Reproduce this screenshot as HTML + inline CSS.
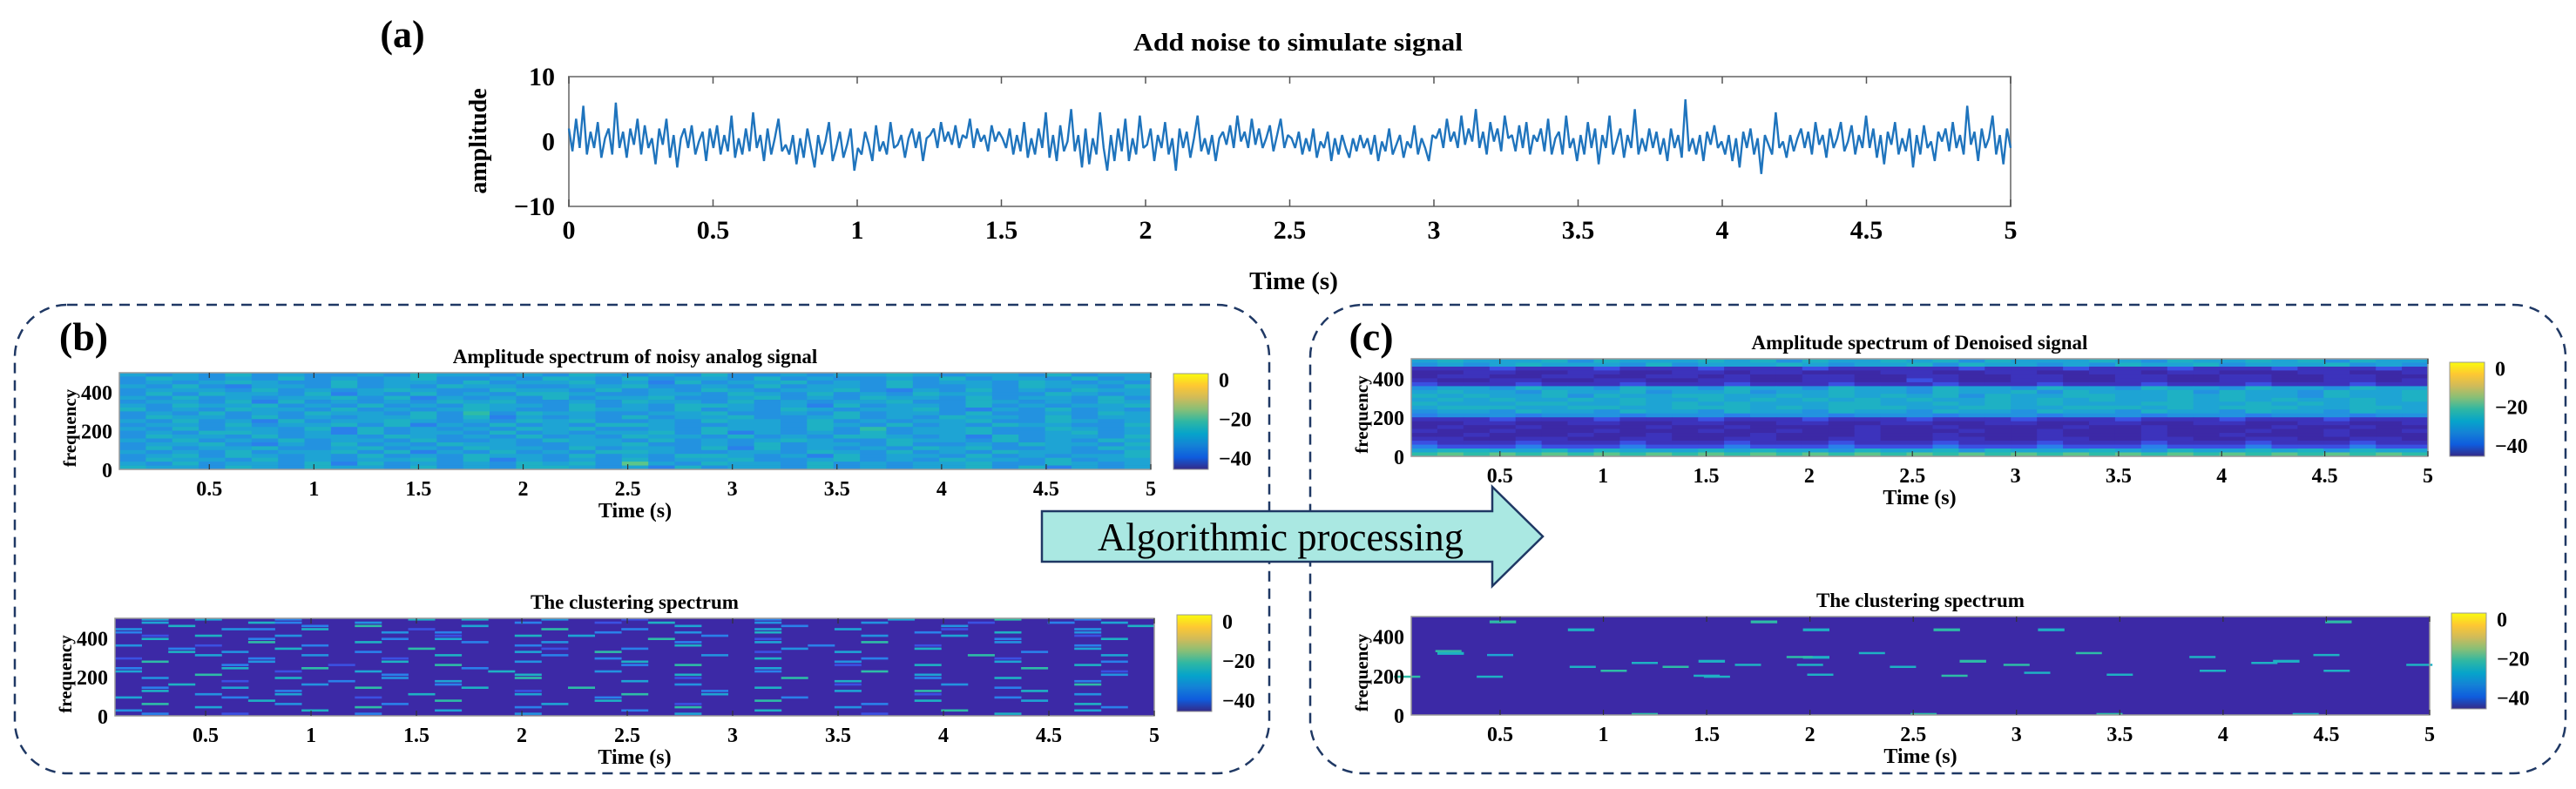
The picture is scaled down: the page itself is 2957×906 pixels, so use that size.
<!DOCTYPE html>
<html><head><meta charset="utf-8"><style>
html,body{margin:0;padding:0;background:#fff;}
svg{display:block;}
text{font-family:"Liberation Serif",serif;}
</style></head><body>
<svg id="fig" width="2957" height="906" viewBox="0 0 2957 906" xmlns="http://www.w3.org/2000/svg">
<g id="panelA"></g>
<rect x="17" y="350" width="1440" height="538" rx="60" fill="none" stroke="#1f3864" stroke-width="2.5" stroke-dasharray="12,8"/>
<rect x="1504" y="350" width="1441" height="538" rx="60" fill="none" stroke="#1f3864" stroke-width="2.5" stroke-dasharray="12,8"/>
<text x="96" y="402" font-size="46" font-weight="bold" text-anchor="middle">(b)</text>
<text x="1574" y="402" font-size="46" font-weight="bold" text-anchor="middle">(c)</text>
<g id="maps"></g>
<g>
<polygon points="1196,587 1713,587 1713,559 1771,616 1713,673 1713,645 1196,645" fill="#aae8e2" stroke="#1f3864" stroke-width="2.5"/>
<text x="1470" y="632" font-size="46" text-anchor="middle" textLength="420" lengthAdjust="spacingAndGlyphs">Algorithmic processing</text>
</g>
</svg>
<script>
const NS="http://www.w3.org/2000/svg";
// ---- Panel (a) data ----
const signalValues=[
2,-1.5,3.5,-1,5.5,-2,1.5,-1,3,-2.5,0.5,2,-2,6,-1,1.5,-2.5,2,-0.5,3.5,
-2,2.5,-1,0.5,-3.5,2,-0.5,3.5,-2.5,1,-4,0.5,2,-1,2.5,-2,0,1.5,-3,2,
-1,2.5,-2,1,-1.5,4,-2.5,0.5,-2,2,-1.5,4.5,-1,1,-3,2,-2,0.5,3.5,-1.5,
-0.5,-2,1,-3.5,0.5,-2.5,2,-1,-4,1,-2,0,3,-3,-1,1.5,-2.5,-0.5,2,-4.5,
-1,-2,1.5,-0.5,-3,2.5,-1.5,0,-2,3,-1,-0.5,1,-2.5,0.5,2,-1,1.5,-3,0.5,
1,2,-1,3,0,1.5,-0.5,2.5,-1,1,0.5,3.5,-1,2,0,1,-1.5,2.5,0,1.5,
0.5,-1,2,-2,1,-1.5,3,-2.5,0.5,-2,2,-1,4.5,-2.5,1,-3,2.5,-1.5,0,5,
-1.5,1,-4,2,-3.5,0.5,-2,4.5,-1,-4.5,1,-3,2,-1.5,3.5,-3,0.5,-2,4,-1,
-0.5,2,-3,1,-1,3,-2,0.5,-4.5,2,-1,1.5,-2.5,0.5,4,-1.5,0.5,-2,1,-3,
0.5,1.5,-0.5,2.5,-1,4,0,1.5,-1,3.5,-0.5,2,-1,0.5,2.5,-1.5,1,3.5,-1,1,
0.5,-1,1.5,-2,0.5,-1.5,2,-2.5,0,-1,1.5,-3,0.5,-2,1,-1,-2.5,0.5,-1.5,1,
-1,0.5,-2,1,-3,0,-1.5,2,-2,-0.5,1,-2.5,0,-1,2.5,-2,0.5,-1,-3,1,
0.5,2,-1,3.5,0,1.5,-1,4,-0.5,2,0,5,-1,1.5,-2,3,0,2,-1.5,4,
0.5,1,-1.5,2.5,-1,3,-2,1,0,2,-1.5,3.5,-2,0.5,1.5,-2,4,-1,0.5,-3,
1,-2,3,-1,2,-3.5,1,-1,4,-2,0,2,-2.5,1,-1,5,-2,0.5,-1.5,2,
-1,1.5,-2,0.5,-3,2,-1,1,-2.5,6.5,-1.5,0.5,-2,1,-3,1.5,-0.5,2.5,-1,0,
-2,1,-3,0.5,-4,1.5,-1,2,-2,0.5,-5,1,-0.5,-2,4.5,-1,0,-2.5,1,-1.5,
0.5,2,-1,1.5,-2,3,-0.5,1,-2.5,2,-1,0.5,3,-1.5,0,2.5,-2,1,-1,4,
-1,2,-2.5,1,-3.5,1.5,-0.5,3,-2,0.5,-1.5,2,-4,1,-2,2.5,-1,0,-3,1.5,
0,2,-1.5,3,-1,1,-2,5.5,-0.5,1.5,-3,2,-1,0.5,4,-2,1,-3.5,2,-1
];
const aTicks=[0,0.5,1,1.5,2,2.5,3,3.5,4,4.5,5];
const aTickLabels=["0","0.5","1","1.5","2","2.5","3","3.5","4","4.5","5"];
const aYTicks=[-10,0,10];
const aYTickLabels=["\u221210","0","10"];

// ---- Heatmap data (digit = colour level, rows top→bottom = high→low frequency) ----
const noisyRows=[
"545464544546554546545464454556545546455",
"465454645456445465464554645445464554645",
"454565446455464556453645564546455465454",
"546435546454655445564454645546445465546",
"455546454565446554645465455643546454655",
"464655463546454665445546546454655446545",
"546454556463545464556445645465546455464",
"455463645454656445465546454556446545465",
"546556454645465546454665453645546454556",
"645465546454565446554645465455643546454",
"454645465546474655445564454645546445465",
"465546454556463545464556445645465546455",
"546453645565454656445465546454556446545",
"455464556463546454665445546546454655446",
"546455463645454656445465546474556446545",
"454665453645546454556463545464556445645",
"465546455465454645465546454665453645546",
"546454645546445465546454565446554645465",
"455643546454655445564454645546445465546",
"464556445645465546455463645454656445465",
"545464556463546454665445546546454655446",
"456465454645465546454665453645546454556",
"465546454556463545464556445645465546455",
"546455463645454656485465546454556446545",
"655465465546454665453645546454556463545"
];
const noisyClusterRows=[
"050500300006060040020000300005000700300",
"050006300400000300206000400040002003050",
"006000030700050000000500030000040000006",
"400043060002000070030000500500020000400",
"300000000040300000300400600000300600400",
"020600400000200605000030000040050000200",
"060003000030500000007000200000000300060",
"000007000600030040000300500070000400000",
"400200030000000300000600003000200000300",
"003000600007000020030000040000600000500",
"006040000300000500700000200500000030000",
"000500040000600030000040000000007000050",
"200003000020000000300000600030000200000",
"070004000060000400060000000400000500030",
"000030002000700000030700000200600000600",
"300060070000030000000000500000000070000",
"500000200500006000400000300070000000020",
"000700000030000600000600000000500000040",
"040000600040000700000200070000300600000",
"000020003000500000050000000600000000300",
"006000040000300000000400000200040000700",
"030050000700060007000000600000000300000",
"060000300000000200000030000500700060000",
"000400500006000500070050000000200000400",
"500030000200000000300000030000000300000",
"000006000000700000600000700000600050000",
"070000400030000050000200000030000000600",
"000500000700000300000700000400000000030",
"400000060000500000030000600000070000500",
"030020000300000400000500000020000600000"
];
const denoisedRows=[
"565556465556564655656465556546556564655",
"454565554645556545564655454655645556454",
"111211121112111211111211121112111211121",
"001100110011011000110011001101100011001",
"011001100110100110011001100110011001100",
"100110011001100110021001100110011001101",
"211121112111211121112111211121112111211",
"455465546554655465546554655465546554655",
"565546556455645565546556465556465546556",
"656556465566556565656465566556565546556",
"565655656556565656565565656556565655656",
"655566556565655566556565655566556565655",
"566655665566656566655665566656566655665",
"455465546554655465546554655465546554655",
"344434443444344434443444344434443444344",
"111211121112111211121112111211121112111",
"001100110011001100110011001100110011001",
"010010000100100001001000010010000100100",
"100100010001001001000100100010001001001",
"001000100100010001001000100010010001000",
"110011001100110011001100110011001100110",
"211121112111211121112111211121112111211",
"322232223222322232223222322232223222322",
"566556465556565546556465556546556564655",
"787878787878787878787878787878787878787"
];
const denoisedClusterRows=[
"000000000000000000000000000000000000000",
"000700000000070000000000000000000007000",
"000000000000000000000000000000000000000",
"000000600000000600007000600000000000000",
"000000000000000000000000000000000000000",
"000000000000000000000000000000000000000",
"000000000000000000000000000000000000000",
"000000000000000000000000000000000000000",
"000000000000000000000000000000000000000",
"060000000000000000000000000000000000000",
"000000000000000600000000000000000000000",
"000000000006000000000700000000000600000",
"000000000000000000000000000000000000000",
"000000000000000000000000000000000000000",
"000000000000000000000000000000000000000",
"000000000000000000000000000000000000000",
"000000000000000000000000000000000000000",
"000000000000000000000000000000000000000",
"000000000000000000000000000000000000000",
"000000000000000000000000000000000000000",
"000000000000000000000000000000000000000",
"000000000000000000000000000000000000000",
"000000000000000000000000000000000000000",
"000000000000000000000000000000000000000",
"000000000000000000000000000000000000000"
];
const denoisedClusterMarks=[
[0.25,330,7],[0.5,310,5],[0.9,250,6],[1.05,230,7],[1.2,270,6],[1.35,250,7],[1.5,205,6],[1.7,260,6],[1.95,300,7],[2.0,260,6],[2.05,210,6],[2.3,320,6],[2.45,250,6],[2.7,205,7],[3.0,260,7],[3.1,220,6],[3.35,320,7],[3.5,210,6],[3.9,300,6],[3.95,230,6],[4.2,270,6],[4.5,310,6],[4.55,230,6],[4.95,260,6],[0.05,200,7],[0.45,200,6],[1.55,200,6],[1.2,10,7],[2.55,10,7],[3.45,10,7],[4.4,10,6]
];
const specXTicks=[0.5,1,1.5,2,2.5,3,3.5,4,4.5,5];
const specXTickLabels=["0.5","1","1.5","2","2.5","3","3.5","4","4.5","5"];
const specYTicks=[0,200,400];
const cbTicks=[0,-20,-40];
const cbTickLabels=["0","\u221220","\u221240"];

const palette=["#3c29a6","#3c33bc","#3b50e2","#2a80ea","#2392e0","#1ea4d4","#1eb1c4","#2ebca6","#5cc58a","#a0c95e"];

function el(tag,attrs,parent){const e=document.createElementNS(NS,tag);for(const k in attrs)e.setAttribute(k,attrs[k]);parent.appendChild(e);return e;}

// ---- Panel A ----
const A=document.getElementById('panelA');
const aL=653,aR=2308,aT=88,aB=237;
const ax=t=>aL+(t-0)/(5-0)*(aR-aL);
const ay=v=>aT+(10-v)/20*(aB-aT);
let t;
t=el('text',{x:462,y:54,'font-size':44,'font-weight':'bold','text-anchor':'middle'},A);t.textContent='(a)';


t=el('text',{x:1490,y:58,'font-size':28,'font-weight':'bold','text-anchor':'middle',textLength:378,lengthAdjust:'spacingAndGlyphs'},A);t.textContent='Add noise to simulate signal';


const frame=el('rect',{x:aL,y:aT,width:aR-aL,height:aB-aT,fill:'none',stroke:'#8a8a8a','stroke-width':2},A);


let d='';
signalValues.forEach((v,i)=>{const x=ax(i/(signalValues.length-1)*5);d+=(i?'L':'M')+x.toFixed(1)+','+ay(v).toFixed(1);});
const line=el('path',{d:d,fill:'none',stroke:'#1f74bd','stroke-width':2.4,'stroke-linejoin':'bevel'},A);


aTicks.forEach((v,i)=>{
 const x=ax(v);
 const tk=el('path',{d:`M${x},${aT}v8M${x},${aB}v-8`,stroke:'#555','stroke-width':1.5},A);
 
 
 const lb=el('text',{x:x,y:274,'font-size':30,'font-weight':'bold','text-anchor':'middle'},A);lb.textContent=aTickLabels[i];
 
 
});
aYTicks.forEach((v,i)=>{
 const lb=el('text',{x:aL-16,y:ay(v)+10,'font-size':30,'font-weight':'bold','text-anchor':'end'},A);lb.textContent=aYTickLabels[i];
 
 
});
t=el('text',{x:1485,y:332,'font-size':29,'font-weight':'bold','text-anchor':'middle'},A);t.textContent='Time (s)';


t=el('text',{x:0,y:0,'font-size':28,'font-weight':'bold','text-anchor':'middle',transform:'translate(558,162) rotate(-90)'},A);t.textContent='amplitude';



// ---- Spectrogram panels ----
const M=document.getElementById('maps');
function spectro(cfg){
 const g=el('g',{},M);
 
 
 const {L,R,T,B}=cfg;
 const tmin=0.07,tmax=5,fmax=500;
 const sx=v=>L+(v-tmin)/(tmax-tmin)*(R-L);
 const sy=f=>B-f/fmax*(B-T);
 const bg=el('rect',{x:L,y:T,width:R-L,height:B-T,fill:palette[0]},g);
 
 
 const rows=cfg.rows,nr=rows.length;
 rows.forEach((row,ri)=>{
  const n=row.length;
  for(let c=0;c<n;c++){
   const lv=+row[c];
   if(cfg.sparse&&lv===0)continue;
   const t0=tmin+c/n*(tmax-tmin),t1=tmin+(c+1)/n*(tmax-tmin);
   const f1=fmax*(1-ri/nr),f0=fmax*(1-(ri+1)/nr);
   const y0=sy(f1),y1=sy(f0);
   const h=cfg.sparse?Math.max(2.5,(y1-y0)*0.7):(y1-y0)+0.4;
   const cell=el('rect',{x:sx(t0).toFixed(1),y:y0.toFixed(1),width:(sx(t1)-sx(t0)+0.4).toFixed(1),height:h.toFixed(1),fill:palette[lv]},g);
   
   
  }
 });
 if(cfg.marks){cfg.marks.forEach(m=>{
  const w=(R-L)/39;
  const mk=el('rect',{x:(sx(m[0])-w/2).toFixed(1),y:sy(m[1]).toFixed(1),width:w.toFixed(1),height:2.5,fill:palette[m[2]]},g);
  
  
 });}
 const fr=el('rect',{x:L,y:T,width:R-L,height:B-T,fill:'none',stroke:'#999','stroke-width':1.5},g);
 
 
 specXTicks.forEach((v,i)=>{
  const x=sx(v);
  const tk=el('path',{d:`M${x},${T}v6M${x},${B}v-6`,stroke:'#333','stroke-width':1.2},g);
  
  
  const lb=el('text',{x:x,y:B+30,'font-size':24,'font-weight':'bold','text-anchor':'middle'},g);lb.textContent=specXTickLabels[i];
  
  
 });
 specYTicks.forEach(v=>{
  const lb=el('text',{x:L-8,y:sy(v)+9,'font-size':24,'font-weight':'bold','text-anchor':'end'},g);lb.textContent=String(v);
  
  
 });
 let tt=el('text',{x:(L+R)/2,y:T-11,'font-size':23,'font-weight':'bold','text-anchor':'middle'},g);tt.textContent=cfg.title;
 
 
 tt=el('text',{x:(L+R)/2,y:B+55,'font-size':24,'font-weight':'bold','text-anchor':'middle'},g);tt.textContent='Time (s)';
 
 
 tt=el('text',{x:0,y:0,'font-size':21,'font-weight':'bold','text-anchor':'middle',transform:`translate(${L-50},${(T+B)/2+8}) rotate(-90)`},g);tt.textContent='frequency';
 
 
 const gid='cb'+cfg.name;
 const defs=el('defs',{},g);
 const lg=el('linearGradient',{id:gid,x1:0,y1:1,x2:0,y2:0},defs);
 ["#352a87","#0f5cdd","#1481d6","#06a4ca","#2eb7a4","#87bf77","#d1bb59","#fec832","#f9fb0e"].forEach((c,i,a)=>el('stop',{offset:i/(a.length-1),'stop-color':c},lg));
 const cbr=el('rect',{x:cfg.cbX,y:cfg.cbT,width:40,height:cfg.cbB-cfg.cbT,fill:`url(#${gid})`,stroke:'#999','stroke-width':1},g);
 
 
 const cy=v=>cfg.cbB-(v+46)/(3+46)*(cfg.cbB-cfg.cbT);
 cbTicks.forEach((v,i)=>{
  const lb=el('text',{x:cfg.cbX+52,y:cy(v)+9,'font-size':24,'font-weight':'bold','text-anchor':'start'},g);lb.textContent=cbTickLabels[i];
  
  
 });
}
spectro({name:'noisy-spectrum',L:137,R:1321,T:428,B:539,rows:noisyRows,title:'Amplitude spectrum of noisy analog signal',cbX:1347,cbT:429,cbB:539});
spectro({name:'noisy-clustering-spectrum',L:132,R:1325,T:710,B:822,rows:noisyClusterRows,sparse:true,title:'The clustering spectrum',cbX:1351,cbT:706,cbB:817});
spectro({name:'denoised-spectrum',L:1620,R:2787,T:412,B:524,rows:denoisedRows,title:'Amplitude spectrum of Denoised signal',cbX:2812,cbT:416,cbB:524});
spectro({name:'denoised-clustering-spectrum',L:1620,R:2789,T:708,B:821,rows:denoisedClusterRows,sparse:true,marks:denoisedClusterMarks,title:'The clustering spectrum',cbX:2814,cbT:704,cbB:814});
</script>
</body></html>
